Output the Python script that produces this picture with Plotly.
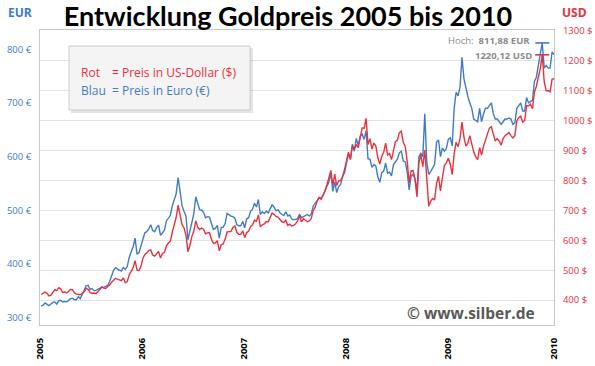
import pandas as pd
import plotly.graph_objects as go

# ---------------- data (weekly, Friday values) ----------------
usd_2005 = [419, 422, 427, 423, 414, 417, 426, 435, 432, 442, 438, 425,
            428, 424, 429, 436, 435, 425, 420, 419, 418, 423, 428, 439, 436,
            425, 423, 424, 422, 428, 438, 444, 440, 439, 446, 451, 460, 466, 473,
            470, 467, 465, 474, 458, 462, 485, 496, 508, 532, 500, 499, 513]
eur_2005 = [321, 323, 327, 325, 322, 325, 328, 329, 325, 331, 332, 329,
            330, 329, 332, 335, 336, 333, 333, 339, 335, 343, 352, 359, 360,
            352, 354, 350, 350, 353, 354, 357, 356, 358, 360, 367, 378, 388, 393,
            390, 388, 387, 393, 390, 395, 412, 422, 432, 448, 418, 421, 433]

usd_2006 = [540, 553, 558, 566, 568, 551, 547, 557, 563, 541, 556, 560, 582,
            591, 597, 627, 652, 677, 718, 677, 652, 642, 617, 562, 582, 613,
            630, 665, 644, 636, 641, 636, 622, 625, 626, 603, 590, 591, 599,
            565, 586, 588, 604, 628, 628, 630, 643, 648, 626, 620, 620, 632]
eur_2006 = [448, 458, 460, 465, 473, 462, 460, 468, 472, 453, 458, 463, 480,
            485, 490, 508, 521, 531, 561, 529, 508, 498, 489, 445, 463, 481,
            493, 525, 512, 501, 500, 496, 486, 488, 487, 473, 464, 466, 472,
            448, 468, 468, 475, 494, 491, 489, 488, 485, 473, 471, 471, 479]

usd_2007 = [609, 626, 630, 646, 652, 667, 664, 685, 645, 652, 655, 663, 662,
            678, 691, 687, 680, 678, 669, 662, 660, 667, 650, 654, 648, 650,
            655, 665, 682, 662, 672, 668, 662, 665, 673, 700, 711, 731, 743,
            737, 750, 765, 785, 806, 834, 784, 821, 783, 799, 800, 812, 837]
eur_2007 = [467, 484, 486, 498, 502, 513, 506, 520, 492, 497, 494, 498, 495,
            503, 510, 506, 499, 501, 495, 492, 490, 497, 489, 491, 484, 482,
            483, 484, 493, 486, 488, 490, 492, 489, 493, 508, 512, 518, 524,
            522, 527, 538, 545, 552, 570, 535, 553, 533, 544, 548, 563, 570]

usd_2008 = [863, 895, 870, 916, 905, 920, 910, 945, 976, 974, 1008, 920, 940,
            905, 925, 915, 876, 855, 880, 894, 925, 885, 890, 870, 905, 930,
            935, 960, 965, 928, 914, 865, 792, 832, 833, 805, 745, 860, 885,
            846, 902, 790, 714, 730, 740, 735, 790, 814, 765, 810, 850, 860]
eur_2008 = [591, 605, 595, 623, 610, 634, 621, 638, 642, 632, 648, 596, 595,
            580, 585, 582, 562, 552, 570, 573, 588, 569, 571, 564, 585, 590,
            595, 607, 610, 592, 590, 572, 538, 563, 567, 558, 535, 600, 606,
            600, 680, 590, 567, 572, 580, 585, 627, 631, 600, 616, 610, 615]

usd_2009 = [874, 855, 820, 890, 928, 913, 940, 995, 945, 915, 925, 950, 925,
            895, 880, 870, 910, 885, 915, 940, 955, 975, 980, 955, 932, 940,
            932, 918, 940, 950, 955, 960, 950, 942, 950, 1000, 1010, 1015, 995,
            1000, 1050, 1050, 1055, 1040, 1095, 1115, 1145, 1175,
            1220.12, 1130, 1100, 1100, 1096, 1138, 1140]
eur_2009 = [632, 635, 620, 690, 720, 713, 730, 785, 745, 725, 712, 700, 690,
            670, 668, 665, 690, 665, 680, 690, 690, 695, 700, 680, 670, 670,
            666, 660, 665, 670, 670, 672, 670, 660, 663, 690, 695, 700, 685,
            685, 710, 700, 703, 705, 740, 748, 770, 790,
            811.88, 765, 770, 765, 765, 795, 790]

usd = usd_2005 + usd_2006 + usd_2007 + usd_2008 + usd_2009
eur = eur_2005 + eur_2006 + eur_2007 + eur_2008 + eur_2009
dates = pd.date_range("2005-01-07", periods=len(usd), freq="W-FRI")

high_date = "2009-12-04"
eur_high = 811.88
usd_high = 1220.12

year_ticks = ["2005-01-03", "2006-01-02", "2007-01-02", "2008-01-02", "2009-01-02", "2010-01-15"]
year_labels = ["2005", "2006", "2007", "2008", "2009", "2010"]
eur_ticks = [300, 400, 500, 600, 700, 800]
usd_ticks = [400, 500, 600, 700, 800, 900, 1000, 1100, 1200, 1300]

BLUE = "#3f7cc4"
RED = "#e8323e"

# ---------------- layout helpers (pixel -> paper) ----------------
L, R, T, B = 40, 554, 30, 325
def px(x):
    return (x - L) / (R - L)
def py(y):
    return (B - y) / (B - T)

fig = go.Figure()
fig.add_trace(go.Scatter(x=dates, y=eur, mode="lines", yaxis="y",
                         line=dict(color=BLUE, width=1.4), hoverinfo="skip"))
fig.add_trace(go.Scatter(x=dates, y=usd, mode="lines", yaxis="y2",
                         line=dict(color=RED, width=1.4), hoverinfo="skip"))
fig.add_trace(go.Scatter(x=[high_date], y=[eur_high], mode="markers", yaxis="y",
                         marker=dict(symbol="line-ew", size=10,
                                     line=dict(color=BLUE, width=1.6))))
fig.add_trace(go.Scatter(x=[high_date], y=[usd_high], mode="markers", yaxis="y2",
                         marker=dict(symbol="line-ew", size=10,
                                     line=dict(color=RED, width=1.6))))

font_main = "Open Sans"

shapes = [
    dict(type="rect", xref="paper", yref="paper",
         x0=px(71), x1=px(253), y0=py(113), y1=py(48),
         fillcolor="rgba(0,0,0,0.10)", line=dict(width=0), layer="above"),
    dict(type="rect", xref="paper", yref="paper",
         x0=px(69), x1=px(250), y0=py(110), y1=py(46),
         fillcolor="#f4f4f4", line=dict(color="#cccccc", width=1), layer="above"),
]

def ann(text, x, y, color, size, xanchor="left", family=font_main):
    return dict(text=text, x=px(x), y=py(y), xref="paper", yref="paper",
                xanchor=xanchor, yanchor="middle", showarrow=False,
                font=dict(family=family, size=size, color=color))

annotations = [
    ann("<b>EUR</b>", 20, 12, BLUE, 12, "center"),
    ann("<b>USD</b>", 574, 12, RED, 12, "center"),
    ann("Rot", 79, 72, RED, 12),
    ann("= Preis in US-Dollar ($)", 110, 72, RED, 12),
    ann("Blau", 79, 90, BLUE, 12),
    ann("= Preis in Euro (€)", 110, 90, BLUE, 12),
    ann("Hoch:  <b>811,88 EUR</b>", 532, 41, "#8c8c8c", 9.5, "right"),
    ann("<b>1220,12 USD</b>", 534, 55, "#8c8c8c", 9.5, "right"),
    ann("<b>© www.silber.de</b>", 537, 313, "#595959", 15.5, "right"),
]

fig.update_layout(
    width=595, height=366,
    margin=dict(l=L, r=595 - R, t=T, b=366 - B),
    paper_bgcolor="white", plot_bgcolor="white",
    showlegend=False,
    title=dict(text="<b>Entwicklung Goldpreis 2005 bis 2010</b>",
               x=288 / 595, xref="container", xanchor="center",
               y=1 - 17 / 366, yref="container", yanchor="middle",
               font=dict(family="Lato", size=27, color="black")),
    xaxis=dict(type="date", range=["2005-01-03", "2010-01-15"], automargin=False,
               tickmode="array", tickvals=year_ticks, ticktext=year_labels,
               tickangle=-90, showgrid=False, zeroline=False,
               showline=True, mirror=True, linecolor="#c8c8c8", linewidth=1,
               ticks="", ticklabelstandoff=8,
               tickfont=dict(family=font_main, size=9.5, color="black", weight="bold")),
    yaxis=dict(range=[286, 836], tickmode="array", tickvals=eur_ticks, automargin=False,
               ticktext=[f"{v} €" for v in eur_ticks],
               showgrid=False, zeroline=False, showline=True, linecolor="#c8c8c8",
               ticks="", ticklabelstandoff=6,
               tickfont=dict(family=font_main, size=9.5, color=BLUE)),
    yaxis2=dict(range=[317, 1303], overlaying="y", side="right", tickmode="array",
                automargin=False,
                tickvals=usd_ticks, ticktext=[f"{v} $" for v in usd_ticks],
                showgrid=True, gridcolor="#e3e3e3", gridwidth=1, zeroline=False,
                showline=True, linecolor="#c8c8c8", ticks="", ticklabelstandoff=6,
                tickfont=dict(family=font_main, size=9.5, color=RED)),
    shapes=shapes,
    annotations=annotations,
)

fig.write_html("out.html", config={"displayModeBar": False},
               post_script="document.body.style.margin='0';document.body.style.padding='0';")
